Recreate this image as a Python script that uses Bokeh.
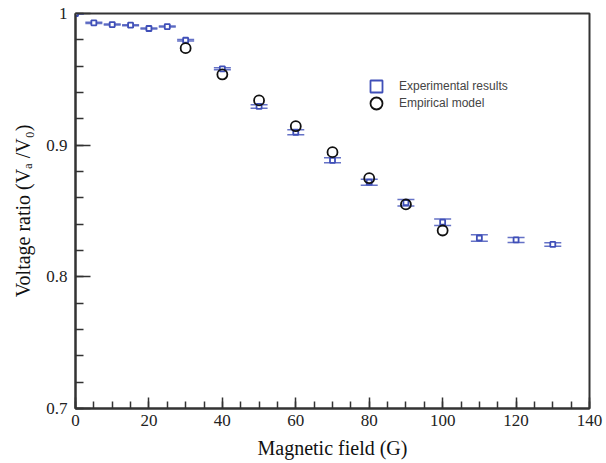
from bokeh.plotting import figure
from bokeh.models import (ColumnDataSource, Whisker, TeeHead, FixedTicker, Legend,
                          LegendItem, Range1d)
from bokeh.embed import file_html
from bokeh.resources import INLINE

# ---- data ----
field_exp = [0, 5, 10, 15, 20, 25, 30, 40, 50, 60, 70, 80, 90, 100, 110, 120, 130]
ratio_exp = [1.000, 0.9929, 0.9916, 0.9911, 0.9886, 0.9901, 0.9797, 0.958, 0.9294,
             0.9098, 0.8885, 0.8719, 0.8563, 0.8415, 0.8295, 0.828, 0.8246]
err_exp = [0.0004, 0.0004, 0.0004, 0.0004, 0.0004, 0.0004, 0.0006, 0.0008, 0.0013,
           0.0019, 0.0019, 0.0023, 0.0025, 0.0025, 0.0024, 0.0019, 0.0013]

field_model = [30, 40, 50, 60, 70, 80, 90, 100]
ratio_model = [0.9737, 0.9537, 0.934, 0.9144, 0.8947, 0.8749, 0.855, 0.8352]

x_ticks = [0, 20, 40, 60, 80, 100, 120, 140]
x_minor = [v for v in range(0, 141, 5)]
y_ticks = [0.7, 0.8, 0.9, 1.0]
y_minor = [0.7 + 0.02 * i for i in range(16)]
y_tick_labels = {0.7: "0.7", 0.8: "0.8", 0.9: "0.9", 1.0: "1"}

BLUE = "#3f4fb8"
DARK = "#333333"
SERIF = "Liberation Serif"

p = figure(width=604, height=462, x_range=Range1d(0, 140), y_range=Range1d(0.7, 1.0),
           output_backend="svg", toolbar_location=None,
           min_border_left=75, min_border_right=15, min_border_top=13, min_border_bottom=54)
p.xgrid.visible = False
p.ygrid.visible = False
p.outline_line_color = DARK
p.outline_line_width = 2

# axes
p.xaxis.ticker = FixedTicker(ticks=x_ticks, minor_ticks=x_minor)
p.yaxis.ticker = FixedTicker(ticks=y_ticks, minor_ticks=y_minor)
p.yaxis.major_label_overrides = y_tick_labels
p.xaxis.axis_label = "Magnetic field (G)"
p.yaxis.axis_label = "Voltage ratio (V\u2090 /V\u2080)"
for ax in (p.xaxis, p.yaxis):
    ax.axis_line_color = DARK
    ax.axis_line_width = 2
    ax.major_tick_line_color = DARK
    ax.minor_tick_line_color = DARK
    ax.major_tick_line_width = 1.5
    ax.minor_tick_line_width = 1.5
    ax.major_tick_out = 0
    ax.minor_tick_out = 0
    ax.major_label_text_font = SERIF
    ax.major_label_text_font_size = "17px"
    ax.major_label_text_color = "#222222"
    ax.axis_label_text_font = SERIF
    ax.axis_label_text_font_size = "20px"
    ax.axis_label_text_font_style = "normal"
    ax.axis_label_text_color = "#111111"
p.xaxis.major_tick_in = 11
p.xaxis.minor_tick_in = 7
p.yaxis.major_tick_in = 15
p.yaxis.minor_tick_in = 8
p.xaxis.major_label_standoff = 6
p.yaxis.major_label_standoff = 8
p.xaxis.axis_label_standoff = 8
p.yaxis.axis_label_standoff = 9

# data
src = ColumnDataSource(data=dict(
    x=field_exp, y=ratio_exp,
    upper=[r + e for r, e in zip(ratio_exp, err_exp)],
    lower=[r - e for r, e in zip(ratio_exp, err_exp)],
))
msrc = ColumnDataSource(data=dict(x=field_model, y=ratio_model))

wh = Whisker(base="x", upper="upper", lower="lower", source=src,
             line_color=BLUE, line_width=1.5, line_alpha=0.8, level="underlay",
             upper_head=TeeHead(size=17, line_color=BLUE, line_width=1.5, line_alpha=0.8),
             lower_head=TeeHead(size=17, line_color=BLUE, line_width=1.5, line_alpha=0.8))
p.add_layout(wh)

r_exp = p.scatter("x", "y", source=src, marker="square", size=5,
                  line_color=BLUE, line_width=1.8, fill_color="white")
r_mod = p.scatter("x", "y", source=msrc, marker="circle", size=10,
                  line_color="#111111", line_width=1.8, fill_alpha=0)

common = dict(glyph_width=30, glyph_height=30, label_standoff=8, padding=0, margin=0,
              border_line_color=None, background_fill_alpha=0,
              label_text_font="Liberation Sans", label_text_font_size="12px",
              label_text_color="#444444")
leg1 = Legend(items=[LegendItem(label="Experimental results", renderers=[r_exp])],
              location=(286, 307), **common)
leg2 = Legend(items=[LegendItem(label="Empirical model", renderers=[r_mod])],
              location=(286, 290), **common)
p.add_layout(leg1)
p.add_layout(leg2)

open("out.html", "w").write(file_html(p, INLINE))
